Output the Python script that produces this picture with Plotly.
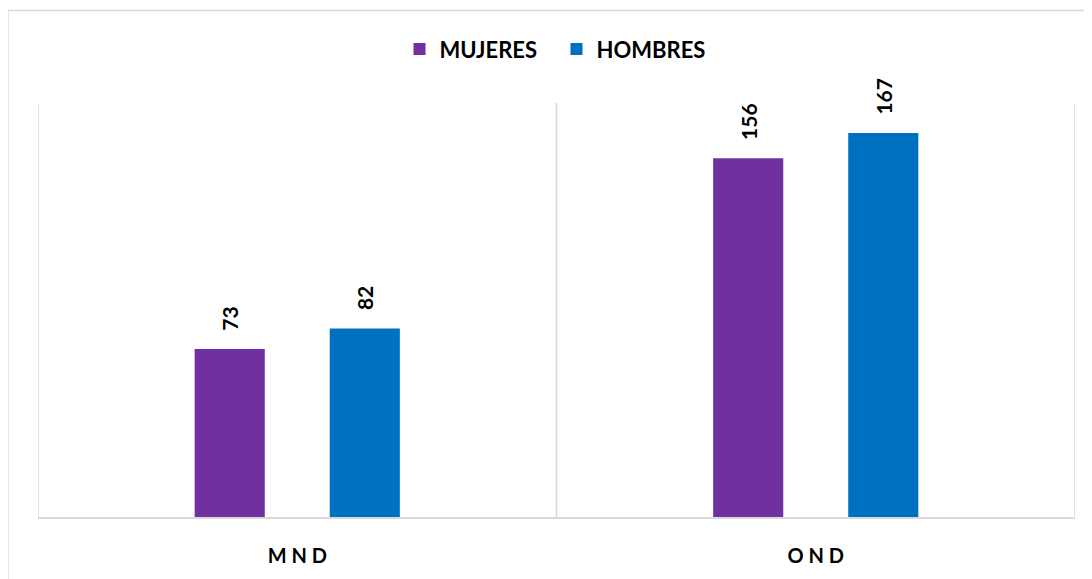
import plotly.graph_objects as go

categories = ["MND", "OND"]
tick_labels = ["M N D", "O N D"]
mujeres = [73, 156]
hombres = [82, 167]

PURPLE = "#7030A0"
BLUE = "#0070C0"
GRID = "#d9d9d9"
FONT = "Lato"
NBSP = "\u00a0"

fig = go.Figure()
for name, values, color in [("MUJERES", mujeres, PURPLE), ("HOMBRES", hombres, BLUE)]:
    fig.add_trace(
        go.Bar(
            x=categories,
            y=values,
            name=name,
            marker=dict(color=color, line=dict(width=0)),
            text=[f"<b>{NBSP * 3}{v}</b>" for v in values],
            textposition="outside",
            textangle=-90,
            constraintext="none",
            textfont=dict(family=FONT, size=21, color="black"),
            cliponaxis=False,
        )
    )

# category separators
for xpos in [-0.5, 0.5, 1.5]:
    fig.add_shape(
        type="line", xref="x", yref="y", x0=xpos, x1=xpos, y0=0, y1=180,
        line=dict(color=GRID, width=1.5), layer="below",
    )

# chart border
fig.add_shape(
    type="rect", xref="paper", yref="paper",
    x0=-0.029, x1=1.1, y0=-0.3, y1=1.2236,
    line=dict(color=GRID, width=1.5),
)

# page body has an 8px offset, so the figure is drawn a little smaller
fig.update_layout(
    width=1084,
    height=571,
    margin=dict(l=30, r=17, t=95, b=60),
    paper_bgcolor="white",
    plot_bgcolor="white",
    barmode="group",
    bargap=0.479,
    bargroupgap=0.481,
    font=dict(family=FONT, color="black"),
    showlegend=True,
    legend=dict(
        orientation="h",
        x=0.5, xanchor="center",
        y=1.13, yanchor="middle",
        font=dict(family=FONT, size=22, color="black", weight="bold"),
        itemsizing="constant",
        traceorder="normal",
        entrywidth=112,
    ),
    xaxis=dict(
        range=[-0.5, 1.5],
        tickmode="array",
        tickvals=categories,
        ticktext=[f"<b>{t}</b>" for t in tick_labels],
        tickfont=dict(family=FONT, size=20, color="black"),
        ticks="",
        ticklabelstandoff=20,
        showline=True,
        linecolor=GRID,
        linewidth=1.5,
        showgrid=False,
        zeroline=False,
    ),
    yaxis=dict(
        range=[0, 180],
        showticklabels=False,
        showgrid=False,
        zeroline=False,
        showline=False,
    ),
)

fig.write_html("out.html")
